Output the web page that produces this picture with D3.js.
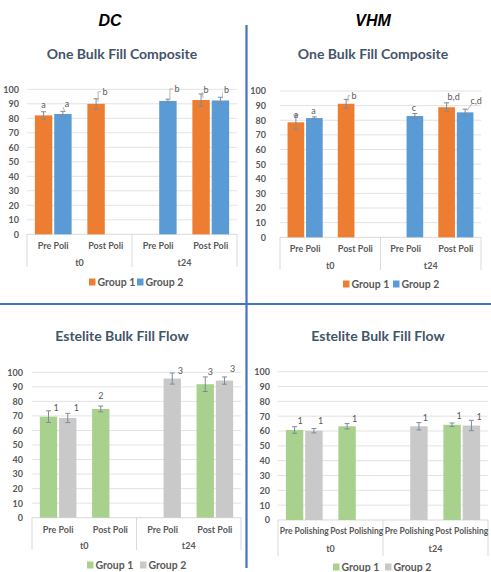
<!DOCTYPE html>
<html><head><meta charset="utf-8">
<script src="https://cdn.jsdelivr.net/npm/d3@7"></script>
<style>
html,body{margin:0;padding:0;background:#fff;}
svg{display:block;}
text{font-family:Lato,"Open Sans",sans-serif;}
</style></head>
<body>
<svg id="c" width="491" height="572"></svg>
<script>
// ---------- DATA ----------
const subCatsPoli = ["Pre Poli","Post Poli","Pre Poli","Post Poli"];
const subCatsPolishing = ["Pre Polishing","Post Polishing","Pre Polishing","Post Polishing"];
const timePoints = ["t0","t24"];
const seriesNames = ["Group 1","Group 2"];
const yTickValues = [0,10,20,30,40,50,60,70,80,90,100];
const columnHeads = ["DC","VHM"];
const chartTitles = ["One Bulk Fill Composite","Estelite Bulk Fill Flow"];

const dcBulkG1 = [82, 90, null, 92.6];
const dcBulkG2 = [83, null, 92, 92.3];
const dcBulkG1Err = [2.5, 3.5, null, 4.2];
const dcBulkG2Err = [1.8, null, 1.2, 2.2];
const dcBulkG1Labels = ["a","b",null,"b"];
const dcBulkG2Labels = ["a",null,"b","b"];

const vhmBulkG1 = [78.6, 91.3, null, 88.9];
const vhmBulkG2 = [81.5, null, 82.9, 85.4];
const vhmBulkG1Err = [5, 3, null, 3];
const vhmBulkG2Err = [0.8, null, 1.7, 2.2];
const vhmBulkG1Labels = ["a","b",null,"b,d"];
const vhmBulkG2Labels = ["a",null,"c","c,d"];

const dcFlowG1 = [69.5, 74.8, null, 91.8];
const dcFlowG2 = [68.6, null, 95.7, 94.3];
const dcFlowG1Err = [4, 2, null, 5];
const dcFlowG2Err = [3.2, null, 3.8, 2.5];
const dcFlowG1Labels = ["1","2",null,"3"];
const dcFlowG2Labels = ["1",null,"3","3"];

const vhmFlowG1 = [60.7, 63.2, null, 64.2];
const vhmFlowG2 = [60.2, null, 63.2, 63.7];
const vhmFlowG1Err = [2.2, 1.8, null, 1.2];
const vhmFlowG2Err = [1.5, null, 2.5, 3.5];
const vhmFlowG1Labels = ["1","1",null,"1"];
const vhmFlowG2Labels = ["1",null,"1","1"];

// ---------- STYLE / LAYOUT ----------
const svg = d3.select("#c");
const textCol = "#595959", titleCol = "#44546a", gridCol = "#e3e3e3", errCol = "#7d8b9b";
const divCol = "#4472c4";

// dividers
svg.append("line").attr("x1",0).attr("x2",491).attr("y1",304).attr("y2",304)
  .attr("stroke",divCol).attr("stroke-width",2.2);
svg.append("line").attr("x1",246.5).attr("x2",246.5).attr("y1",25).attr("y2",568)
  .attr("stroke",divCol).attr("stroke-width",2.2);

// column heads
[[110,20],[373,20]].forEach((p,i)=>{
  svg.append("text").attr("x",p[0]).attr("y",p[1]).attr("text-anchor","middle")
    .attr("dominant-baseline","central").style("font-family","'Liberation Sans',Arial,sans-serif")
    .style("font-weight","bold").style("font-style","italic").style("font-size","16px")
    .attr("fill","#000").text(columnHeads[i]);
});

function drawPanel(cfg){
  const g = svg.append("g");
  const y = d3.scaleLinear().domain([0,100]).range([cfg.y0, cfg.y100]);
  const x = d3.scaleBand().domain(d3.range(4)).range([cfg.x0, cfg.x1]).padding(0);
  const cw = x.bandwidth();
  const inner = d3.scaleBand().domain(seriesNames).range([-cw*0.35, cw*0.35]).paddingInner(0.1);

  // title
  g.append("text").attr("x",cfg.titleX).attr("y",cfg.titleY).attr("text-anchor","middle")
    .attr("dominant-baseline","central").style("font-weight","bold").style("font-size","14px")
    .attr("fill",titleCol).text(cfg.title);

  // grid
  g.selectAll(".grid").data(yTickValues.filter(d=>d>0)).enter().append("line")
    .attr("x1",cfg.x0).attr("x2",cfg.x1).attr("y1",d=>y(d)).attr("y2",d=>y(d))
    .attr("stroke",gridCol).attr("stroke-width",1);
  // y axis labels
  const ya = g.append("g").attr("transform",`translate(${cfg.tickRight+4},0)`)
    .call(d3.axisLeft(y).tickValues(yTickValues).tickSize(0).tickPadding(4));
  ya.select(".domain").remove();
  ya.selectAll("text").style("font-size","9px").style("font-family","Lato,sans-serif")
    .style("font-weight","bold").attr("fill",textCol);

  // category axis line + separators
  g.append("line").attr("x1",cfg.x0).attr("x2",cfg.x1).attr("y1",cfg.y0).attr("y2",cfg.y0)
    .attr("stroke","#d9d9d9");
  [cfg.x0, (cfg.x0+cfg.x1)/2, cfg.x1].forEach(sx=>{
    g.append("line").attr("x1",sx).attr("x2",sx).attr("y1",cfg.y0).attr("y2",cfg.sepBottom)
      .attr("stroke","#d9d9d9");
  });
  // sub category labels
  g.selectAll(".sub").data(cfg.subs).enter().append("text")
    .attr("x",(d,i)=>x(i)+cw/2).attr("y",cfg.subY).attr("text-anchor","middle")
    .attr("dominant-baseline","central").style("font-size",cfg.subSize||"9px").style("font-weight","bold")
    .attr("fill",textCol).text(d=>d);
  g.selectAll(".tp").data(timePoints).enter().append("text")
    .attr("x",(d,i)=>x(i*2)+cw).attr("y",cfg.timeY).attr("text-anchor","middle")
    .attr("dominant-baseline","central").style("font-size","9px").style("font-weight","bold")
    .attr("fill",textCol).text(d=>d);

  // bars
  const series = [
    {name:seriesNames[0], vals:cfg.g1, err:cfg.g1e, labels:cfg.g1l, color:cfg.colors[0], off:cfg.off1},
    {name:seriesNames[1], vals:cfg.g2, err:cfg.g2e, labels:cfg.g2l, color:cfg.colors[1], off:cfg.off2}
  ];
  series.forEach(s=>{
    s.vals.forEach((v,i)=>{
      if(v==null) return;
      const bx = x(i)+cw/2+inner(s.name);
      const bw = inner.bandwidth();
      const cx = bx+bw/2;
      g.append("rect").attr("x",bx).attr("y",y(v)).attr("width",bw).attr("height",y(0)-y(v))
        .attr("fill",s.color);
      const e = s.err[i];
      const eg = g.append("g").attr("stroke",errCol).attr("stroke-width",1);
      eg.append("line").attr("x1",cx).attr("x2",cx).attr("y1",y(v+e)).attr("y2",y(v-e));
      eg.append("line").attr("x1",cx-2.5).attr("x2",cx+2.5).attr("y1",y(v+e)).attr("y2",y(v+e));
      eg.append("line").attr("x1",cx-2.5).attr("x2",cx+2.5).attr("y1",y(v-e)).attr("y2",y(v-e));
      const lab = s.labels[i];
      if(lab){
        const o = s.off[i];
        const lx = cx+o[0], ly = y(v)+o[1];
        if(o[2]==="elbow"){
          g.append("path").attr("d",`M${cx+2},${y(v)-2} L${cx+2},${ly} L${lx-4},${ly}`)
            .attr("fill","none").attr("stroke","#a6a6a6").attr("stroke-width",0.8);
        } else if(o[2]==="diag"){
          g.append("path").attr("d",`M${cx+2},${y(v)-2} L${lx-4},${ly+3}`)
            .attr("fill","none").attr("stroke","#a6a6a6").attr("stroke-width",0.8);
        }
        g.append("text").attr("x",lx).attr("y",ly).attr("text-anchor","middle")
          .attr("dominant-baseline","central").style("font-size","9px")
          .attr("fill",textCol).text(lab);
      }
    });
  });

  // legend
  const lg = g.append("g").attr("transform",`translate(${cfg.legendX},${cfg.legendY})`);
  [0,1].forEach(k=>{
    const ox = k*cfg.legendGap;
    lg.append("rect").attr("x",ox).attr("y",-3.5).attr("width",6.5).attr("height",7)
      .attr("fill",cfg.colors[k]);
    lg.append("text").attr("x",ox+8.5).attr("y",0).attr("dominant-baseline","central")
      .style("font-size","10.5px").style("font-weight","bold").attr("fill",textCol).text(seriesNames[k]);
  });
}

const orangeBlue = ["#ed7d31","#5b9bd5"];
const greenGray = ["#a9d18e","#c9c9c9"];

drawPanel({x0:27,x1:237,y0:234.3,y100:89.3,tickRight:19,subY:245,timeY:262,sepBottom:267,
  legendY:282,legendX:89,legendGap:48,titleX:122,titleY:53,title:chartTitles[0],subs:subCatsPoli,
  colors:orangeBlue,g1:dcBulkG1,g2:dcBulkG2,g1e:dcBulkG1Err,g2e:dcBulkG2Err,g1l:dcBulkG1Labels,g2l:dcBulkG2Labels,
  off1:[[0,-11],[9,-12,"elbow"],null,[5,-11,"diag"]],
  off2:[[4,-10,"diag"],null,[9,-12,"elbow"],[6,-11,"diag"]]});

drawPanel({x0:280,x1:481,y0:237.3,y100:91,tickRight:266,subY:248,timeY:265,sepBottom:270,
  legendY:284,legendX:343,legendGap:50,titleX:373,titleY:53,title:chartTitles[0],subs:subCatsPoli,
  colors:orangeBlue,g1:vhmBulkG1,g2:vhmBulkG2,g1e:vhmBulkG1Err,g2e:vhmBulkG2Err,g1l:vhmBulkG1Labels,g2l:vhmBulkG2Labels,
  off1:[[0,-8],[8,-8,"elbow"],null,[7,-11]],
  off2:[[-1,-8],null,[-1,-9],[11,-12,"diag"]]});

drawPanel({x0:32,x1:241,y0:517.7,y100:372.3,tickRight:23,subY:529,timeY:545,sepBottom:550,
  legendY:565,legendX:87,legendGap:53,titleX:122,titleY:335,title:chartTitles[1],subs:subCatsPoli,
  colors:greenGray,g1:dcFlowG1,g2:dcFlowG2,g1e:dcFlowG1Err,g2e:dcFlowG2Err,g1l:dcFlowG1Labels,g2l:dcFlowG2Labels,
  off1:[[7.5,-9],[0,-13],null,[5,-13]],
  off2:[[8.5,-10],null,[8,-8],[8,-12]]});

drawPanel({x0:278,x1:488,y0:520,y100:371.7,tickRight:270,subY:531,timeY:548,sepBottom:556,
  legendY:567,legendX:333,legendGap:52,titleX:378,titleY:335,title:chartTitles[1],subs:subCatsPolishing,subSize:"8.5px",
  colors:greenGray,g1:vhmFlowG1,g2:vhmFlowG2,g1e:vhmFlowG1Err,g2e:vhmFlowG2Err,g1l:vhmFlowG1Labels,g2l:vhmFlowG2Labels,
  off1:[[5.5,-9],[7.5,-8],null,[7,-9]],
  off2:[[6.7,-10],null,[6.5,-9],[7.7,-9]]});
</script>
</body></html>
